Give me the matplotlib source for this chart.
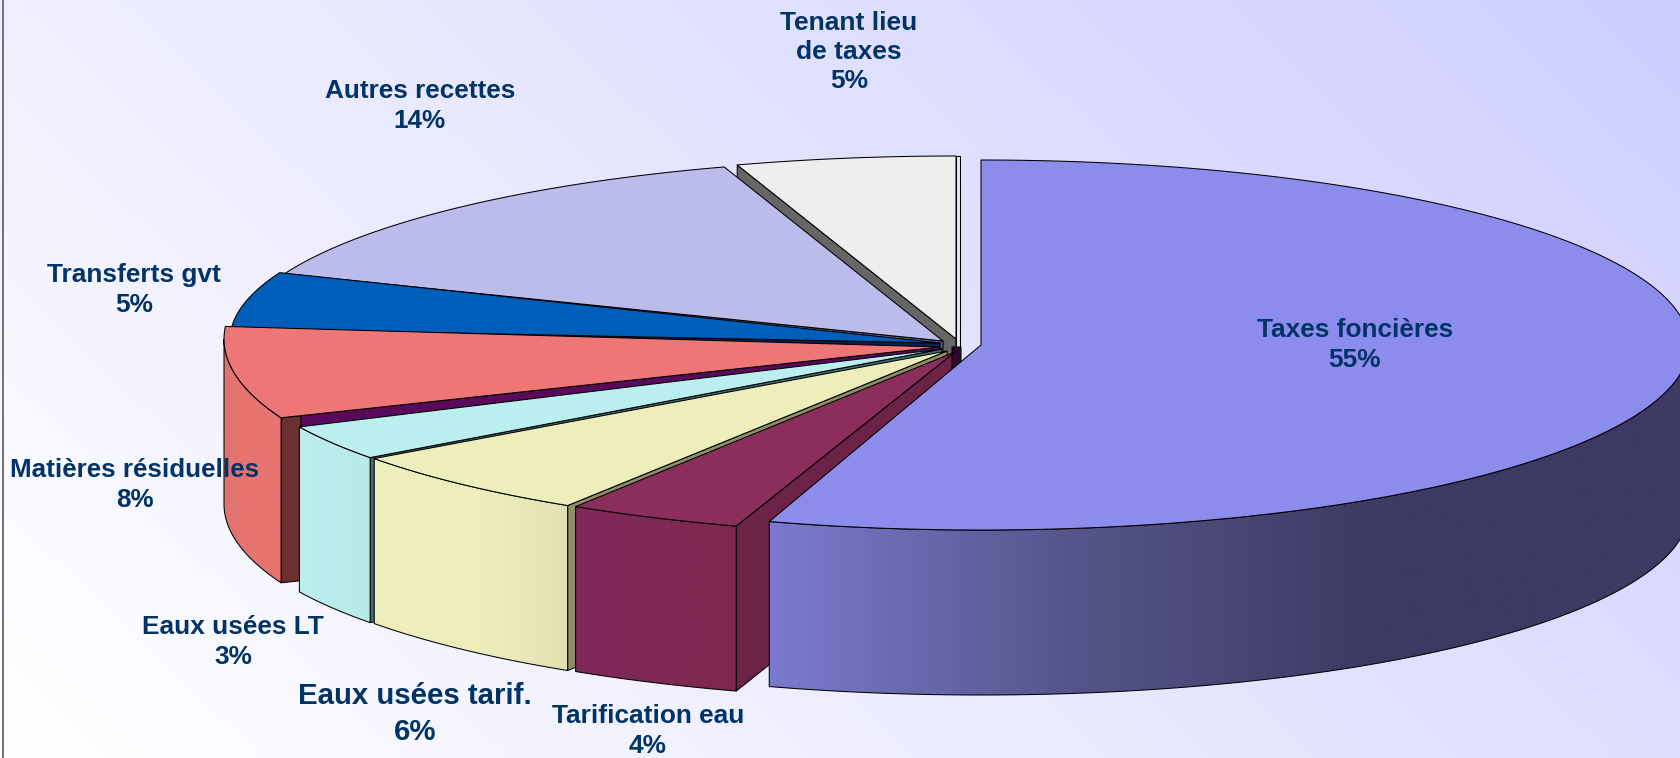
import numpy as np
import matplotlib
matplotlib.use("Agg")
import matplotlib.pyplot as plt
from matplotlib.patches import Polygon
from matplotlib.colors import LinearSegmentedColormap, to_rgb

# ---- data (clockwise from 12 o'clock) ----
categories = ["Taxes foncières", "Tarification eau", "Eaux usées tarif.", "Eaux usées LT",
              "Matières résiduelles", "Transferts gvt", "Autres recettes", "Tenant lieu\nde taxes"]
values = [55, 4, 6, 3, 8, 5, 14, 5]

# ---- style ----
top_colors = ["#8C8CEC", "#8B2E5C", "#EEEEBB", "#BBEEEE", "#EE7676", "#005EBB", "#BBBBEC", "#EEEEEE"]
cut_colors = ["#3C3A62", "#6B2348", "#8E8E68", "#3E6E70", "#6B3030", "#0A1E50", "#5C5C7C", "#666666"]
side_stops = [[(765, "#7B7BCF"), (1072, "#55558B"), (1378, "#3C3A62"), (1690, "#3C3A62")],
              [(570, "#80285A"), (740, "#7E2850")],
              [(370, "#EEEEBB"), (480, "#EEEEBB"), (575, "#E2E0B2")],
              [(295, "#BBEEEE"), (372, "#B8EAEA")],
              [(224, "#E07370"), (245, "#E87470"), (290, "#E87470")],
              None, None, None]
# rim centre (x, y), rim radii (x, y), apex (x, y), angle trims
centers = [(981, 345), (955, 352), (947, 351), (940, 349), (930, 339), (938, 340), (943, 341), (956, 339)]
radii = [(708, 185), (708, 183), (708, 183), (708, 183), (706, 200), (708, 183), (708, 183), (708, 183)]
apexes = [(981, 345), (955, 352), (947, 351), (942, 349), (940, 347), (940, 343), (943, 341), (956, 339)]
start_trims = [0, 0, 0, -0.4, 2, 0, 0, 0]
end_trims = [0.6, 0, 0, 0, 0, 0, 0, 0]
depth = 165
label_xy = [(1355, 345), (648, 731), (415, 714), (233, 642), (135, 485), (134, 290), (420, 106), (849, 52)]
label_size = [18.9, 18.9, 21.2, 18.9, 18.7, 18.9, 18.8, 19.0]
label_spacing = [1.28, 1.28, 1.32, 1.28, 1.28, 1.28, 1.28, 1.28]
text_color = "#003366"

W, H = 1681, 758
fig = plt.figure(figsize=(W / 100, H / 100), dpi=100)
ax = fig.add_axes([0, 0, 1, 1])
ax.set_axis_off()

# background gradient
gx, gy = np.meshgrid(np.linspace(0, 1, 220), np.linspace(0, 1, 110))
t = 0.68 * gx + 0.32 * (1 - gy)
low, high = np.array(to_rgb("#FFFFFF")), np.array(to_rgb("#CECEFF"))
bg = low[None, None, :] * (1 - t[..., None]) + high[None, None, :] * t[..., None]
ax.imshow(bg, extent=(0, W, H, 0), aspect="auto", zorder=0, interpolation="bilinear")
ax.plot([3, 3], [0, H], color="#707070", lw=1.4, zorder=1)

edges = np.cumsum([0] + values) * 3.6
LW = 0.75


def rim(i, a):
    a = np.radians(a)
    cx, cy = centers[i]
    rx, ry = radii[i]
    return np.column_stack([cx + rx * np.sin(a), cy - ry * np.cos(a)])


def poly(pts, color, z):
    ax.add_patch(Polygon(pts, closed=True, fc=color, ec="black", lw=LW, joinstyle="round", zorder=z))


z = 2
for i in [7, 6, 5, 4, 3, 2, 1, 0]:
    a0, a1 = edges[i] + start_trims[i], edges[i + 1] - end_trims[i]
    apex = np.array(apexes[i], float)
    down = np.array([0, depth], float)

    # radial cut face turned towards the viewer
    if 180 < a0 < 360:
        p = rim(i, [a0])[0]
        poly([apex, p, p + down, apex + down], cut_colors[i], z)
        z += 1
        if i == 4:  # shaded inner part of this cut face
            q = apex + 0.97 * (p - apex)
            poly([apex, q, q + [0, 22], apex + [0, 22]], "#5A0A5A", z)
            z += 1
    if i == 7:  # thin right-hand face
        p = rim(i, [a1])[0]
        poly([p, p + [4, 0], apex + [4, 8], apex + [0, 8]], "#E6E6F6", z)
        z += 1
    if i == 1:  # dark foot of the cut face near the hub
        poly([apex + [-3, -5], apex + [6, -5], apex + [6, 16], apex + [-3, 20]], "#2E0A30", z)
        z += 1

    # curved outer wall
    lo, hi = max(a0, 90), min(a1, 270)
    if side_stops[i] is not None and lo < hi:
        arc = rim(i, np.linspace(lo, hi, 240))
        pts = np.vstack([arc, arc[::-1] + down])
        stops = side_stops[i]
        x0, x1 = stops[0][0], stops[-1][0]
        cmap = LinearSegmentedColormap.from_list(
            "w", [((x - x0) / (x1 - x0), c) for x, c in stops])
        patch = Polygon(pts, closed=True, fc="none", ec="black", lw=LW, zorder=z + 1)
        ax.add_patch(patch)
        im = ax.imshow(np.linspace(0, 1, 512)[None, :], cmap=cmap, extent=(x0, x1, H, 0),
                       aspect="auto", zorder=z, vmin=0, vmax=1)
        im.set_clip_path(patch)
        z += 2

    # top face
    arc = rim(i, np.linspace(a0, a1, 300))
    poly(np.vstack([apex, arc]), top_colors[i], z)
    z += 1

for name, v, (x, y), s, sp in zip(categories, values, label_xy, label_size, label_spacing):
    ax.text(x, y, f"{name}\n{v}%", ha="center", va="center", color=text_color, fontsize=s,
            fontweight="bold", family="Liberation Sans", linespacing=sp, zorder=z)

ax.set_xlim(0, W)
ax.set_ylim(H, 0)
fig.savefig("out.png", dpi=100)
